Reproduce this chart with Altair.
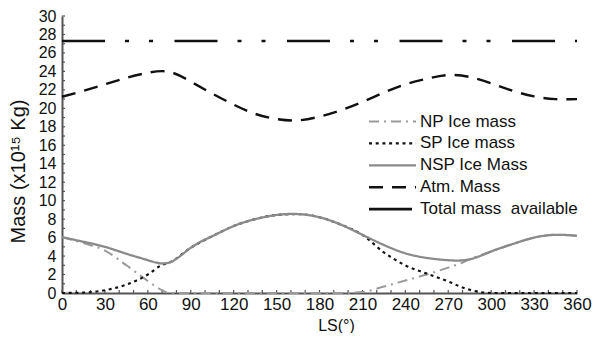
import altair as alt
import pandas as pd

# ---- data ----
ls = [0, 15, 30, 45, 60, 75, 90, 105, 120, 135, 150, 165, 180, 195,
      210, 225, 240, 255, 270, 285, 300, 315, 330, 345, 360]
nsp_ice = [6.05, 5.55, 5.0, 4.25, 3.55, 3.3, 4.9, 6.15, 7.25, 8.0, 8.45, 8.55, 8.2, 7.4,
           6.3, 5.2, 4.3, 3.8, 3.55, 3.65, 4.5, 5.3, 6.0, 6.3, 6.2]
atm = [21.25, 21.9, 22.6, 23.3, 23.85, 23.95, 22.9, 21.6, 20.4, 19.4, 18.85, 18.7, 19.1, 19.8,
       20.7, 21.7, 22.6, 23.2, 23.6, 23.4, 22.7, 21.9, 21.3, 21.0, 21.0]
total = [27.3, 27.3, 27.3, 27.3, 27.3, 27.3, 27.3, 27.3, 27.3, 27.3, 27.3, 27.3, 27.3, 27.3,
         27.3, 27.3, 27.3, 27.3, 27.3, 27.3, 27.3, 27.3, 27.3, 27.3, 27.3]

ls_np = [0, 15, 30, 45, 60, 70, 75, 195, 210, 225, 240, 255, 270, 280, 285, 300, 315, 330, 345, 360]
np_ice = [6.05, 5.4, 4.6, 3.0, 1.3, 0.3, 0.0, 0.0, 0.1, 0.7, 1.35, 2.0, 2.75, 3.3, 3.65,
          4.5, 5.3, 6.0, 6.3, 6.2]

ls_sp = [0, 15, 30, 45, 60, 70, 75, 90, 105, 120, 135, 150, 165, 180, 195, 210, 225, 240,
         255, 270, 280, 285, 300, 360]
sp_ice = [0.0, 0.05, 0.3, 0.9, 2.0, 3.05, 3.3, 4.9, 6.15, 7.25, 8.0, 8.45, 8.55, 8.2, 7.4, 6.3,
          4.4, 3.0, 2.1, 1.25, 0.6, 0.35, 0.0, 0.0]

series_names = ["NP Ice mass", "SP Ice mass", "NSP Ice Mass", "Atm. Mass", "Total mass\u00a0 available"]
series_x = [ls_np, ls_sp, ls, ls, ls]
series_values = [np_ice, sp_ice, nsp_ice, atm, total]

x_ticks = list(range(0, 361, 30))
y_ticks = list(range(0, 31, 2))
x_minor = list(range(0, 361, 10))
y_minor = list(range(0, 31, 1))

# ---- styling ----
colors = ["#9a9a9a", "#111111", "#8a8a8a", "#111111", "#111111"]
widths = [2, 2.6, 4, 3, 5]
dashes = [[10, 5, 2, 5], [3, 3.7], [1, 0], [14, 9], [43, 20, 4, 20, 4, 21.5]]

FONT = "Liberation Sans"
W, H = 515, 277

rows = []
for name, xs, vals in zip(series_names, series_x, series_values):
    for x, v in zip(xs, vals):
        rows.append({"LS": x, "Mass": v, "series": name})
df = pd.DataFrame(rows)

xscale = alt.Scale(domain=[0, 360], nice=False)
yscale = alt.Scale(domain=[0, 30], nice=False)

xaxis = alt.Axis(values=x_ticks, ticks=False, grid=False, domainColor="#555", domainWidth=2,
                 labelFont=FONT, labelFontSize=17, labelColor="#111", labelPadding=3,
                 labelFlush=False, labelOverlap=False,
                 title="LS(°)", titleFont=FONT, titleFontSize=16, titleFontWeight="normal",
                 titleColor="#111", titleX=274, titleY=37, titleBaseline="alphabetic",
                 titleAlign="center")
yaxis = alt.Axis(values=y_ticks, ticks=False, grid=False, domainColor="#555", domainWidth=2,
                 labelFont=FONT, labelFontSize=16, labelColor="#111", labelPadding=6,
                 labelOverlap=False, labelFlush=False,
                 title="Mass (x10¹⁵ Kg)", titleFont=FONT, titleFontSize=20,
                 titleFontWeight="normal", titleColor="#111", titleAngle=270,
                 titleX=-44, titleY=155, titleAlign="center", titleBaseline="middle")

X = alt.X("LS:Q", scale=xscale, axis=xaxis)
Y = alt.Y("Mass:Q", scale=yscale, axis=yaxis)

SYM = 11.75  # symbol box; the custom path spans 4x this
legend = alt.Legend(orient="none", legendX=322, legendY=97, title=None, padding=0,
                    symbolType="M-4,0L4,0", symbolSize=SYM * SYM, labelFont=FONT,
                    labelFontSize=17, labelColor="#111", labelOffset=19, rowPadding=3.9)

enc = dict(
    x=X, y=Y,
    color=alt.Color("series:N", scale=alt.Scale(domain=series_names, range=colors), legend=legend),
    strokeDash=alt.StrokeDash("series:N", scale=alt.Scale(domain=series_names, range=dashes), legend=legend),
    strokeWidth=alt.StrokeWidth("series:N", scale=alt.Scale(domain=series_names, range=widths), legend=legend),
    order=alt.Order("LS:Q"),
)

base = alt.Chart(df)
under = base.transform_filter(
    alt.FieldOneOfPredicate(field="series", oneOf=[series_names[0], series_names[1]])
).mark_line(interpolate="monotone", strokeCap="butt").encode(**enc)
nsp_layer = base.transform_filter(
    alt.FieldEqualPredicate(field="series", equal=series_names[2])
).mark_line(interpolate="natural", strokeCap="butt").encode(**enc)
top = base.transform_filter(
    alt.FieldOneOfPredicate(field="series", oneOf=[series_names[3], series_names[4]])
).mark_line(interpolate="natural", strokeCap="butt").encode(**enc)

xt = alt.Chart(pd.DataFrame({"LS": x_minor})).mark_rule(color="#555", strokeWidth=1.2).encode(
    x=X, y=alt.value(H), y2=alt.value(H - 3))
yt = alt.Chart(pd.DataFrame({"Mass": y_minor})).mark_rule(color="#555", strokeWidth=1.2).encode(
    y=Y, x=alt.value(0), x2=alt.value(3))

chart = alt.layer(xt, yt, under, nsp_layer, top).properties(
    width=W, height=H,
    autosize=alt.AutoSizeParams(type="none"),
    padding={"left": 54, "top": 8, "right": 15, "bottom": 40},
).configure_view(stroke=None)

chart.save("out.html", embed_options={"renderer": "svg", "actions": False})
